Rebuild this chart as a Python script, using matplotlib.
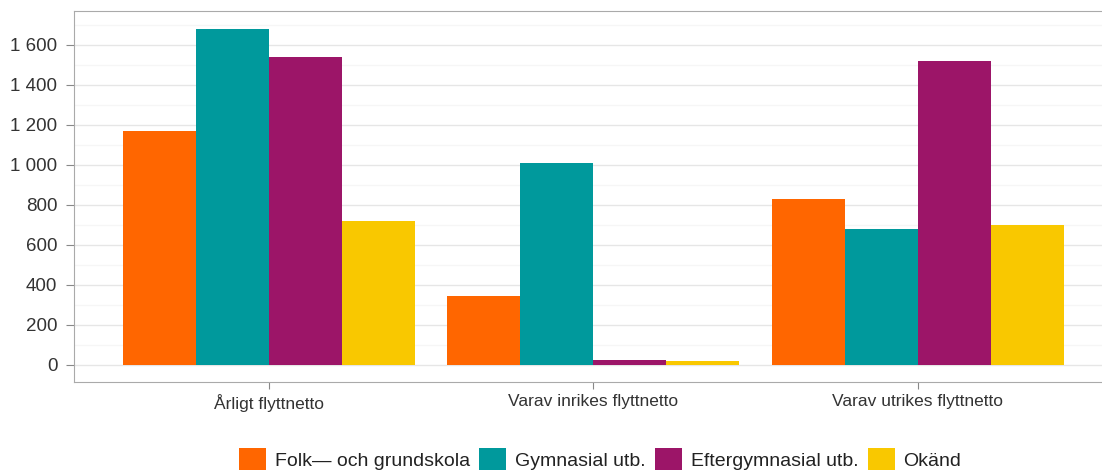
import matplotlib.pyplot as plt
import numpy as np
from matplotlib.ticker import FuncFormatter, MultipleLocator

plt.rcParams['font.family'] = ['Liberation Sans', 'DejaVu Sans']

# Data
groups = ['Årligt flyttnetto', 'Varav inrikes flyttnetto', 'Varav utrikes flyttnetto']
series = ['Folk\u2014 och grundskola', 'Gymnasial utb.', 'Eftergymnasial utb.', 'Okänd']
folk = [1170, 345, 830]
gymnasial = [1680, 1010, 680]
efter = [1540, 25, 1520]
okand = [720, 20, 700]
colors = ['#FF6600', '#00999C', '#9C1568', '#F9C800']

values = [folk, gymnasial, efter, okand]

fig = plt.figure(figsize=(11.02, 4.72), dpi=100)
ax = fig.add_axes([0.0672, 0.1907, 0.9328, 0.786])

x = np.arange(len(groups))
w = 0.225
for i, (vals, name, c) in enumerate(zip(values, series, colors)):
    ax.bar(x + (i - 1.5) * w, vals, width=w, color=c, label=name, zorder=3)

ax.set_xlim(-0.6, 2.567)
ax.set_ylim(-85, 1770)
ax.yaxis.set_major_locator(MultipleLocator(200))
ax.yaxis.set_minor_locator(MultipleLocator(100))
ax.yaxis.set_major_formatter(FuncFormatter(lambda v, p: f'{int(v):,}'.replace(',', ' ')))
ax.grid(axis='y', which='major', color='#e6e6e6', linewidth=1, zorder=0)
ax.grid(axis='y', which='minor', color='#f6f6f6', linewidth=1, zorder=0)
ax.set_xticks(x)
ax.set_xticklabels(groups)

for s in ['left', 'bottom', 'top']:
    ax.spines[s].set_color('#aaaaaa')
ax.spines['right'].set_visible(False)
ax.tick_params(axis='y', which='major', length=6, color='#888888', labelsize=13.5, labelcolor='#333333', pad=6)
ax.tick_params(axis='y', which='minor', length=0)
ax.tick_params(axis='x', length=5, color='#888888', labelsize=12.5, labelcolor='#333333', pad=4)

ax.legend(loc='center', bbox_to_anchor=(0.512, -0.208), ncol=4, frameon=False,
          fontsize=14, handlelength=1.39, handleheight=1.39, handletextpad=0.46, columnspacing=0.46,
          labelcolor='#222222')

fig.savefig('out.png', dpi=100)
